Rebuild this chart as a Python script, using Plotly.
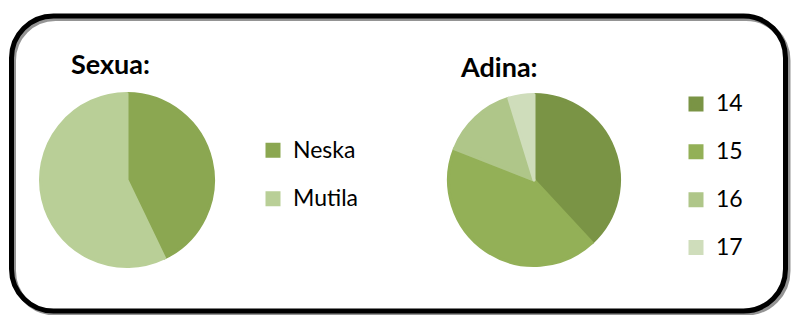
import plotly.graph_objects as go

W, H = 791, 315

# ---- data ----
sex_labels = ["Neska", "Mutila"]
sex_values = [9, 12]
sex_colors = ["#8BA751", "#B9CF97"]

age_labels = ["14", "15", "16", "17"]
age_values = [8, 9, 3, 1]
age_colors = ["#7A9445", "#93B057", "#AFC689", "#CFDDBB"]

titles = ["Sexua:", "Adina:"]

FONT = "Lato, 'Open Sans', sans-serif"


def px(x):
    return x / W


def py(y):
    return 1 - y / H


def leg_text(labels, size=23, shift=6.5):
    return [f"<span style='font-size:{size}px;baseline-shift:{shift}px'>{t}</span>" for t in labels]


def rounded_rect(x0, y0, x1, y1, r):
    k = 0.5523 * r
    pts = [
        f"M{px(x0 + r)},{py(y0)}",
        f"L{px(x1 - r)},{py(y0)}",
        f"C{px(x1 - r + k)},{py(y0)} {px(x1)},{py(y0 + r - k)} {px(x1)},{py(y0 + r)}",
        f"L{px(x1)},{py(y1 - r)}",
        f"C{px(x1)},{py(y1 - r + k)} {px(x1 - r + k)},{py(y1)} {px(x1 - r)},{py(y1)}",
        f"L{px(x0 + r)},{py(y1)}",
        f"C{px(x0 + r - k)},{py(y1)} {px(x0)},{py(y1 - r + k)} {px(x0)},{py(y1 - r)}",
        f"L{px(x0)},{py(y0 + r)}",
        f"C{px(x0)},{py(y0 + r - k)} {px(x0 + r - k)},{py(y0)} {px(x0 + r)},{py(y0)}",
        "Z",
    ]
    return " ".join(pts)


fig = go.Figure()

fig.add_trace(go.Pie(
    labels=leg_text(sex_labels), values=sex_values, customdata=sex_labels,
    marker=dict(colors=sex_colors, line=dict(color=sex_colors, width=3)),
    sort=False, direction="clockwise", rotation=0, textinfo="none",
    hovertemplate="%{customdata}: %{value}<extra></extra>",
    domain=dict(x=[px(40.5), px(213.5)], y=[py(266.5), py(93.5)]),
    legend="legend",
))

fig.add_trace(go.Pie(
    labels=leg_text(age_labels), values=age_values, customdata=age_labels,
    marker=dict(colors=age_colors, line=dict(color=age_colors, width=3)),
    sort=False, direction="clockwise", rotation=0, textinfo="none",
    hovertemplate="%{customdata}: %{value}<extra></extra>",
    domain=dict(x=[px(448.5), px(619.5)], y=[py(265.5), py(94.5)]),
    legend="legend2",
))

# border with shadow
shadow = rounded_rect(13.5, 18.5, 788, 313, 42)
border = rounded_rect(11.5, 16, 785.5, 311, 42)

fig.update_layout(
    width=W, height=H, autosize=False,
    margin=dict(l=0, r=0, t=0, b=0),
    paper_bgcolor="white", plot_bgcolor="white",
    font=dict(family=FONT, color="#000000"),
    legend=dict(
        x=px(253), y=py(121), xanchor="left", yanchor="top",
        font=dict(size=35, family=FONT, color="#000000"),
        bgcolor="rgba(0,0,0,0)", borderwidth=0,
    ),
    legend2=dict(
        x=px(676), y=py(75), xanchor="left", yanchor="top",
        font=dict(size=34.5, family=FONT, color="#000000"),
        bgcolor="rgba(0,0,0,0)", borderwidth=0,
    ),
    shapes=[
        dict(type="path", path=shadow, xref="paper", yref="paper",
             line=dict(color="rgba(60,60,60,0.55)", width=5), layer="below"),
        dict(type="path", path=border, xref="paper", yref="paper",
             line=dict(color="#000000", width=5), layer="below"),
    ],
    annotations=[
        dict(text=f"<b>{titles[0]}</b>", x=px(69), y=py(64), xref="paper", yref="paper",
             xanchor="left", yanchor="middle", showarrow=False,
             font=dict(size=27, family=FONT, color="#000000")),
        dict(text=f"<b>{titles[1]}</b>", x=px(458), y=py(66), xref="paper", yref="paper",
             xanchor="left", yanchor="middle", showarrow=False,
             font=dict(size=27, family=FONT, color="#000000")),
    ],
)

fig.write_html("out.html", config={"displayModeBar": False},
               post_script="document.body.style.margin='0';")
